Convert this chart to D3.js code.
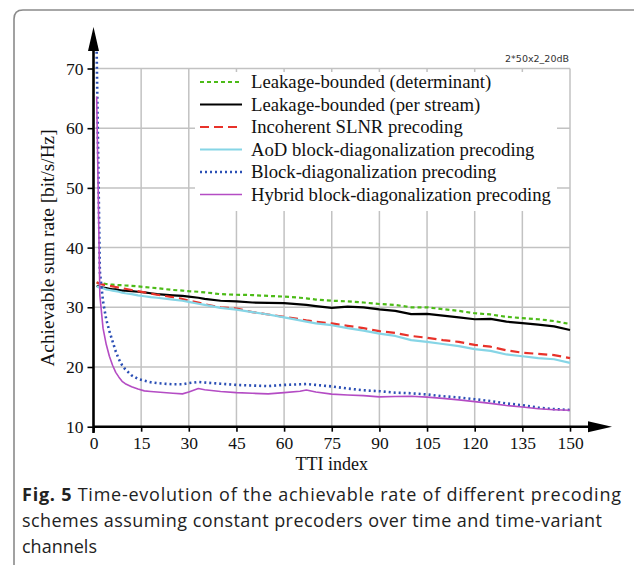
<!DOCTYPE html>
<html lang="en">
<head>
<meta charset="UTF-8">
<title>Fig. 5</title>
<script src="https://d3js.org/d3.v7.min.js"></script>
<style>
  body { margin: 0; background: #fff; }
  .serif { font-family: "Liberation Serif", "Times New Roman", serif; }
  .tick text { font-family: "Liberation Serif", "Times New Roman", serif; font-size: 17.5px; fill: #111; }
</style>
</head>
<body>
<div id="chart"></div>
<script>
var tti = [1,2,3,4,5,6,7,8,9,10,12,14,16,18,20,25,28,30,33,35,40,45,50,55,60,65,67,70,75,80,85,90,95,100,105,110,115,120,125,130,135,140,145,150];

var leakDet   = [34.1,34.05,34.0,33.9,33.8,33.8,33.75,33.7,33.7,33.65,33.6,33.5,33.4,33.3,33.2,32.9,32.8,32.7,32.6,32.5,32.2,32.1,32.05,31.9,31.8,31.6,31.5,31.3,31.1,31.0,30.8,30.55,30.4,30.0,30.0,29.7,29.4,29.0,28.8,28.4,28.2,28.0,27.7,27.2];
var leakStream = [33.6,33.4,33.3,33.2,33.1,33.0,33.0,32.9,32.8,32.8,32.7,32.6,32.5,32.35,32.2,32.0,31.9,31.8,31.6,31.4,31.1,31.0,30.8,30.75,30.7,30.5,30.4,30.2,29.9,30.1,30.0,29.65,29.4,28.85,28.9,28.6,28.3,28.0,28.05,27.6,27.35,27.1,26.8,26.2];
var slnr      = [34.2,33.9,33.8,33.7,33.6,33.5,33.4,33.3,33.2,33.1,32.9,32.7,32.5,32.3,32.1,31.7,31.4,31.1,30.8,30.5,30.0,29.8,29.2,28.8,28.4,28.0,27.8,27.6,27.3,26.9,26.5,26.0,25.7,25.2,24.9,24.5,24.2,23.7,23.4,22.8,22.4,22.2,22.0,21.5];
var aodBd     = [33.5,33.3,33.2,33.0,32.9,32.8,32.7,32.6,32.45,32.35,32.2,32.0,31.85,31.7,31.6,31.3,31.1,30.9,30.6,30.4,29.9,29.6,29.2,28.8,28.3,27.8,27.6,27.3,27.0,26.5,26.1,25.6,25.2,24.5,24.2,23.85,23.5,23.0,22.7,22.1,21.8,21.5,21.3,20.7];
var blockBd   = [72.8,36,31,28,26,24.3,22.6,21.3,20.3,19.6,18.6,18.0,17.7,17.45,17.3,17.1,17.1,17.3,17.5,17.4,17.2,17.0,16.9,16.8,17.0,17.1,17.15,17.0,16.75,16.4,16.1,15.95,15.7,15.6,15.4,15.1,14.9,14.6,14.3,13.9,13.6,13.2,12.95,12.8];
var hybridBd  = [65.3,32,26.5,23.8,21.8,20.3,19.1,18.3,17.6,17.2,16.7,16.3,16.0,15.9,15.8,15.6,15.5,15.8,16.4,16.2,15.9,15.7,15.6,15.5,15.7,15.95,16.15,15.8,15.45,15.3,15.2,15.0,15.05,15.1,14.95,14.75,14.5,14.2,13.9,13.55,13.3,13.0,12.85,12.75];

var seriesNames = [
  "Leakage-bounded (determinant)",
  "Leakage-bounded (per stream)",
  "Incoherent SLNR precoding",
  "AoD block-diagonalization precoding",
  "Block-diagonalization precoding",
  "Hybrid block-diagonalization precoding"
];
var xTicks = [0,15,30,45,60,75,90,105,120,135,150];
var yTicks = [10,20,30,40,50,60,70];

var series = [
  {name: seriesNames[0], values: leakDet,    color: "#4cbb17", width: 2.2, dash: "4,3"},
  {name: seriesNames[1], values: leakStream, color: "#000000", width: 2.2, dash: null},
  {name: seriesNames[2], values: slnr,       color: "#e8322a", width: 2.2, dash: "9,5"},
  {name: seriesNames[3], values: aodBd,      color: "#86d5e6", width: 2.2, dash: null},
  {name: seriesNames[4], values: blockBd,    color: "#2b4fb5", width: 2.6, dash: "2,3"},
  {name: seriesNames[5], values: hybridBd,   color: "#b44cc4", width: 1.6, dash: null}
];

var W = 634, H = 565;
var svg = d3.select("#chart").append("svg")
  .attr("width", W).attr("height", H);

// frame with rounded top-left corner
svg.append("path")
  .attr("d", "M640,10 L23,10 Q14,10 14,19 L14,570")
  .attr("fill", "none").attr("stroke", "#8a8a8a").attr("stroke-width", 1.6);

var x = d3.scaleLinear().domain([0, 150]).range([93.5, 570]);
var y = d3.scaleLinear().domain([10, 70]).range([426.7, 68.5]);

// grid
svg.append("g").selectAll("line.v").data(xTicks.slice(1)).enter().append("line")
  .attr("x1", function(d) { return x(d); }).attr("x2", function(d) { return x(d); })
  .attr("y1", y(10)).attr("y2", y(70))
  .attr("stroke", "#c2c2c2").attr("stroke-width", 1.5);
svg.append("g").selectAll("line.h").data(yTicks.slice(1)).enter().append("line")
  .attr("x1", x(0)).attr("x2", x(150))
  .attr("y1", function(d) { return y(d); }).attr("y2", function(d) { return y(d); })
  .attr("stroke", "#c2c2c2").attr("stroke-width", 1.5);

// legend background covers the grid
svg.append("rect").attr("x", 195).attr("y", 72).attr("width", 362).attr("height", 139)
  .attr("fill", "#fff");

// curves
var line = d3.line()
  .x(function(d, i) { return x(tti[i]); })
  .y(function(d) { return y(d); });

svg.append("g").selectAll("path").data(series).enter().append("path")
  .attr("d", function(s) { return line(s.values); })
  .attr("fill", "none")
  .attr("stroke", function(s) { return s.color; })
  .attr("stroke-width", function(s) { return s.width; })
  .attr("stroke-dasharray", function(s) { return s.dash; })
  .attr("stroke-linejoin", "round");

// axes
var xAxis = svg.append("g").attr("transform", "translate(0," + y(10) + ")")
  .call(d3.axisBottom(x).tickValues(xTicks).tickSize(5).tickPadding(5));
var yAxis = svg.append("g").attr("transform", "translate(" + x(0) + ",0)")
  .call(d3.axisLeft(y).tickValues(yTicks).tickSize(6).tickPadding(4));
[xAxis, yAxis].forEach(function(a) {
  a.select(".domain").remove();
  a.selectAll(".tick line").attr("stroke", "#000").attr("stroke-width", 1.6);
});

// axis lines with arrow heads
svg.append("line").attr("x1", x(0)).attr("x2", 592).attr("y1", y(10)).attr("y2", y(10))
  .attr("stroke", "#000").attr("stroke-width", 2.6);
svg.append("line").attr("x1", x(0)).attr("x2", x(0)).attr("y1", 433).attr("y2", 48)
  .attr("stroke", "#000").attr("stroke-width", 2.6);
svg.append("path")
  .attr("d", "M588," + (y(10) - 5.5) + " L612," + y(10) + " L588," + (y(10) + 5.5) + " Z")
  .attr("fill", "#000");
svg.append("path")
  .attr("d", "M" + (x(0) - 5.5) + ",51 L" + x(0) + ",27 L" + (x(0) + 5.5) + ",51 Z")
  .attr("fill", "#000");

// axis titles
svg.append("text").attr("class", "serif")
  .attr("x", (x(0) + x(150)) / 2).attr("y", 470)
  .attr("text-anchor", "middle").attr("font-size", 18).attr("fill", "#111")
  .text("TTI index");
svg.append("text").attr("class", "serif")
  .attr("transform", "translate(54,248) rotate(-90)")
  .attr("text-anchor", "middle").attr("font-size", 19.3).attr("fill", "#111")
  .text("Achievable sum rate [bit/s/Hz]");

// scenario tag
svg.append("text")
  .attr("x", 569).attr("y", 62).attr("text-anchor", "end")
  .attr("font-family", "DejaVu Sans, sans-serif").attr("font-size", 9.5).attr("fill", "#333")
  .text("2*50x2_20dB");

// legend
var leg = svg.append("g").selectAll("g").data(series).enter().append("g")
  .attr("transform", function(s, i) { return "translate(0," + (82 + i * 22.5) + ")"; });
leg.append("line").attr("x1", 200).attr("x2", 242).attr("y1", 0).attr("y2", 0)
  .attr("stroke", function(s) { return s.color; })
  .attr("stroke-width", function(s) { return s.width; })
  .attr("stroke-dasharray", function(s) { return s.dash; });
leg.append("text").attr("class", "serif")
  .attr("x", 251).attr("y", 6).attr("font-size", 18.7).attr("fill", "#111")
  .text(function(s) { return s.name; });

// caption
var capLines = [
  "Time-evolution of the achievable rate of different precoding",
  "schemes assuming constant precoders over time and time-variant",
  "channels"
];
var capWidths = [599, 580, null];
capLines.forEach(function(t, i) {
  var txt = svg.append("text")
    .attr("x", 22).attr("y", 501 + i * 26)
    .attr("font-family", "Open Sans, sans-serif").attr("font-size", 18).attr("fill", "#222");
  if (capWidths[i]) txt.attr("textLength", capWidths[i]).attr("lengthAdjust", "spacing");
  if (i === 0) {
    txt.append("tspan").attr("font-weight", "bold").text("Fig. 5");
    txt.append("tspan").text(" " + t);
  } else {
    txt.text(t);
  }
});
</script>
</body>
</html>
